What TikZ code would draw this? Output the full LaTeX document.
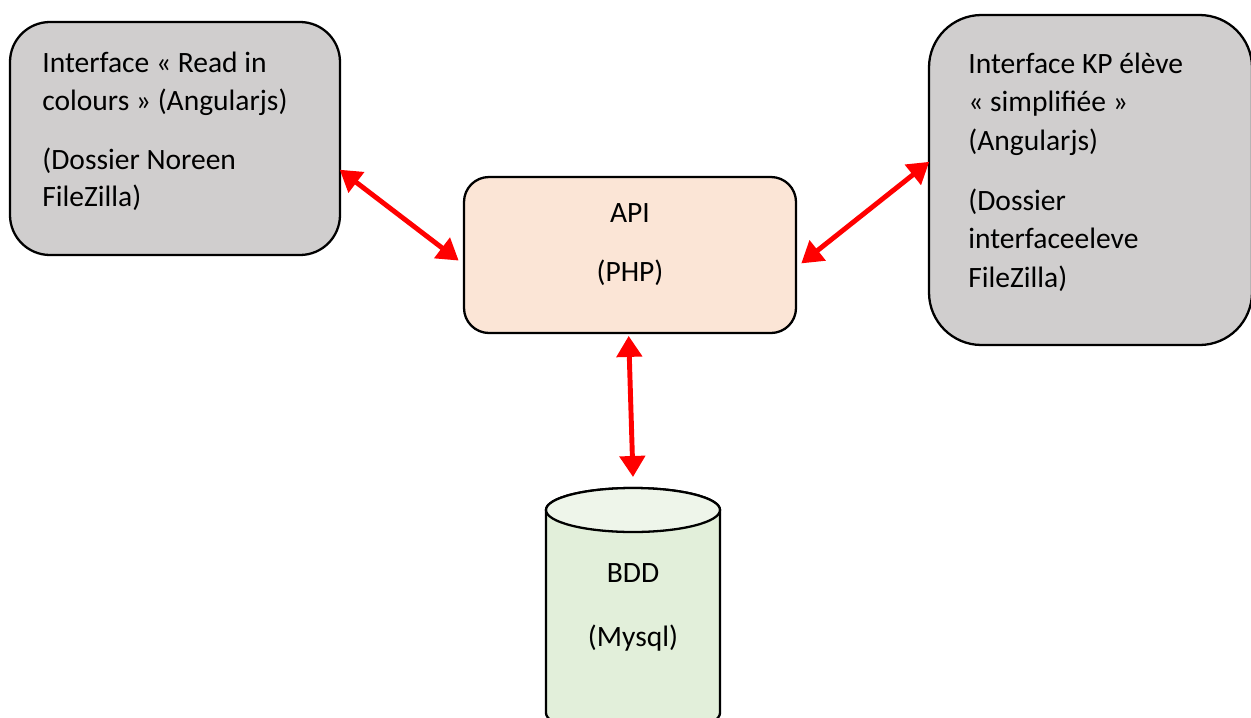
\documentclass[tikz,border=0pt]{standalone}
\usepackage{fontspec}
\setmainfont{Carlito}
\usepackage{tikz}
\usetikzlibrary{positioning, arrows.meta, calc}

\definecolor{boxgray}{HTML}{D0CECE}
\definecolor{apifill}{HTML}{FBE5D6}
\definecolor{dbbody}{HTML}{E2EFDA}
\definecolor{dbtop}{HTML}{EEF5EA}

\begin{document}
\begin{tikzpicture}[font=\fontsize{16.8}{21.8}\selectfont,
  box/.style={draw,line width=1.3pt,minimum width=#1},
  txt/.style={align=left,inner sep=0pt,anchor=base west},
  link/.style={red,line width=2.8pt,{Triangle[length=4.2mm,width=5mm]}-{Triangle[length=4.2mm,width=5mm]}}]
  \useasboundingbox (0,0) rectangle (25.02,-14.34);
  \clip (0,0) rectangle (25.02,-14.34);
  % interfaces
  \node[box=6.6cm,fill=boxgray,minimum height=4.66cm,rounded corners=0.8cm] (ric) at (3.5,-2.77) {};
  \node[box=6.46cm,fill=boxgray,minimum height=6.6cm,rounded corners=1.05cm] (kp) at (21.81,-3.6) {};
  \node[box=6.64cm,fill=apifill,minimum height=3.12cm,rounded corners=0.5cm] (api) at (12.6,-5.1) {};
  \node[txt] (rictxt) at (0.84,-4.12) {Interface « Read in\\ colours » (Angularjs)\\[0.42cm] (Dossier Noreen\\[-0.04cm] FileZilla)};
  \node[txt] (kptxt) at (19.36,-5.74) {Interface KP élève\\ « simplifiée »\\ (Angularjs)\\[0.44cm] (Dossier\\ interfaceeleve\\ FileZilla)};
  \node[inner sep=0pt,anchor=base] (apitxt) at (12.6,-4.44) {API};
  \node[inner sep=0pt,anchor=base,below=0.75cm of apitxt.base] (phptxt) {(PHP)};
  % base de donnees
  \filldraw[fill=dbbody,line width=1.3pt] (10.92,-10.2) -- (10.92,-14.26) arc (180:360:1.74 and 0.44) -- (14.40,-10.2) arc (0:180:1.74 and 0.44);
  \filldraw[fill=dbtop,line width=1.3pt] (12.66,-10.2) ellipse (1.74 and 0.44);
  \coordinate (bddtop) at (12.66,-9.54);
  \node[inner sep=0pt,anchor=base] (bddtxt) at (12.66,-11.64) {BDD};
  \node[inner sep=0pt,anchor=base,below=0.85cm of bddtxt.base] (sqltxt) {(Mysql)};
  % liaisons
  \draw[link,shorten <=-1pt,shorten >=3pt] (ric.-11) -- (api.183);
  \draw[link,shorten <=3pt,shorten >=-1pt] (api.-4) -- (kp.174);
  \draw[link,shorten <=1pt] (api.-91) -- (bddtop);
\end{tikzpicture}
\end{document}
